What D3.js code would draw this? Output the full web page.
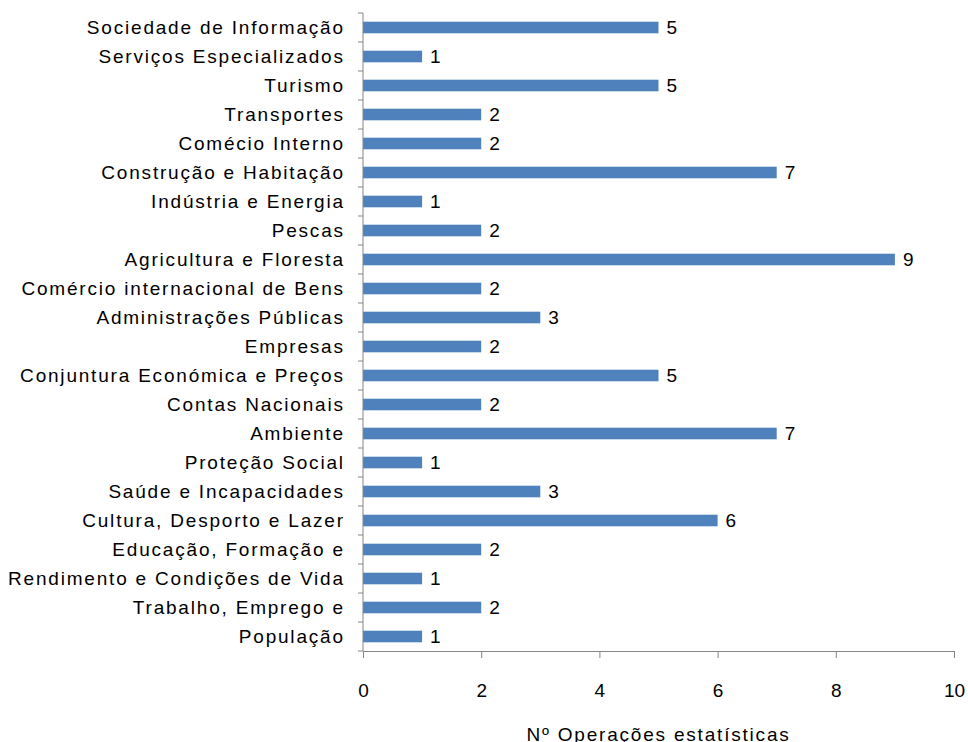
<!DOCTYPE html>
<html>
<head>
<meta charset="utf-8">
<script src="https://cdn.jsdelivr.net/npm/d3@7"></script>
<style>
  body { margin: 0; background: #fff; }
  text { font-family: "Liberation Sans", Arial, sans-serif; fill: #000; }
</style>
</head>
<body>
<div id="chart"></div>
<script>
var categories = [
  "Sociedade de Informação", "Serviços Especializados", "Turismo", "Transportes",
  "Comécio Interno", "Construção e Habitação", "Indústria e Energia", "Pescas",
  "Agricultura e Floresta", "Comércio internacional de Bens", "Administrações Públicas",
  "Empresas", "Conjuntura Económica e Preços", "Contas Nacionais", "Ambiente",
  "Proteção Social", "Saúde e Incapacidades", "Cultura, Desporto e Lazer",
  "Educação, Formação e", "Rendimento e Condições de Vida", "Trabalho, Emprego e",
  "População"
];
var values = [5, 1, 5, 2, 2, 7, 1, 2, 9, 2, 3, 2, 5, 2, 7, 1, 3, 6, 2, 1, 2, 1];
var xTicks = [0, 2, 4, 6, 8, 10];
var xTitle = "Nº Operações estatísticas";

var width = 968, height = 742;
var plotLeft = 363, plotRight = 954, plotTop = 13, plotBottom = 651;
var fontSize = "19px";
var spacing = 1.8;

var svg = d3.select("#chart").append("svg")
    .attr("width", width)
    .attr("height", height);

var x = d3.scaleLinear().domain([0, 10]).range([plotLeft, plotRight]);
var y = d3.scaleBand().domain(categories).range([plotTop, plotBottom])
    .paddingInner(0.6).paddingOuter(0.3);

// bars
svg.selectAll("rect.bar").data(categories).enter().append("rect")
    .attr("class", "bar")
    .attr("x", x(0))
    .attr("y", function(d) { return y(d); })
    .attr("width", function(d, i) { return x(values[i]) - x(0); })
    .attr("height", y.bandwidth())
    .attr("fill", "#4F81BD");

// value labels
svg.selectAll("text.val").data(categories).enter().append("text")
    .attr("class", "val")
    .attr("x", function(d, i) { return x(values[i]) + 8; })
    .attr("y", function(d) { return y(d) + y.bandwidth() / 2; })
    .attr("dy", "0.36em")
    .style("font-size", fontSize)
    .text(function(d, i) { return values[i]; });

// axes
var axisColor = "#868686";
var step = (plotBottom - plotTop) / categories.length;

svg.append("line")
    .attr("x1", plotLeft).attr("x2", plotLeft)
    .attr("y1", plotTop).attr("y2", plotBottom)
    .attr("stroke", axisColor);
svg.selectAll("line.ytick").data(d3.range(categories.length + 1)).enter().append("line")
    .attr("class", "ytick")
    .attr("x1", plotLeft - 5).attr("x2", plotLeft)
    .attr("y1", function(i) { return plotTop + i * step; })
    .attr("y2", function(i) { return plotTop + i * step; })
    .attr("stroke", axisColor);

svg.selectAll("text.ylab").data(categories).enter().append("text")
    .attr("class", "ylab")
    .attr("x", plotLeft - 20 + spacing)
    .attr("y", function(d) { return y(d) + y.bandwidth() / 2; })
    .attr("dy", "0.36em")
    .attr("text-anchor", "end")
    .style("font-size", fontSize)
    .style("letter-spacing", spacing + "px")
    .text(function(d) { return d; });

var xAxis = svg.append("g")
    .attr("transform", "translate(0," + plotBottom + ")")
    .call(d3.axisBottom(x).tickValues(xTicks).tickSize(7).tickPadding(26));
xAxis.select(".domain").attr("stroke", axisColor);
xAxis.selectAll(".tick line").attr("stroke", axisColor);
xAxis.selectAll(".tick text")
    .style("font-size", fontSize)
    .style("font-family", "'Liberation Sans', Arial, sans-serif")
    .attr("fill", "#000");

svg.append("text")
    .attr("x", (plotLeft + plotRight) / 2)
    .attr("y", 741)
    .attr("text-anchor", "middle")
    .style("font-size", fontSize)
    .style("letter-spacing", spacing + "px")
    .text(xTitle);
</script>
</body>
</html>
